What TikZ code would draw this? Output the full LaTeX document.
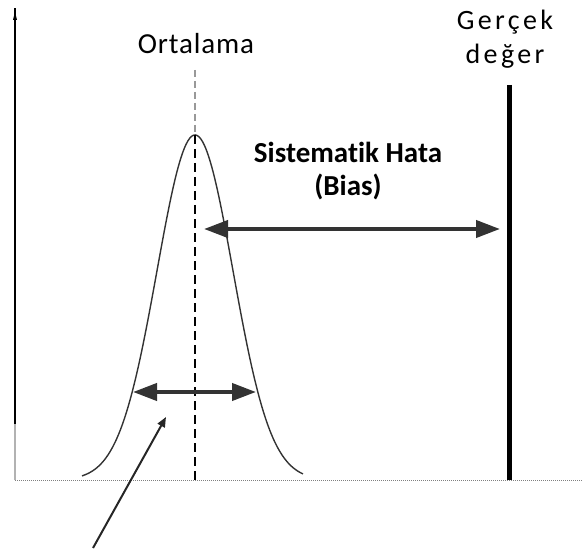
\documentclass[tikz,border=0pt]{standalone}
\usepackage{fontspec}
\setmainfont[Ligatures=NoCommon]{Carlito}
\usetikzlibrary{arrows.meta}
\tikzset{
  lbl/.style={font=\fontsize{28}{33}\selectfont, inner sep=0pt, align=center},
  axis/.style={line width=1pt, gray},
  bigarrow/.style={line width=4pt, black!80, {Triangle[width=17pt,length=24pt]}-{Triangle[width=17pt,length=24pt]}},
  pointer/.style={line width=2pt, black!85, -{Triangle[width=8pt,length=10pt]}},
}
\begin{document}
\begin{tikzpicture}[x=1pt,y=-1pt]
\useasboundingbox (0,0) rectangle (584,559);
% axes
\coordinate (o) at (15,480);
\coordinate (ytop) at (15,8);
\coordinate (xend) at (582,480);
\draw[line width=2pt, black] (15,424) -- (ytop);
\draw[line width=2pt, black!30] (o) -- (15,424);
\fill (15,12) -- (13,20) -- (17,20) -- cycle;
\draw[axis, densely dotted] (o) -- (xend);
% bell curve
\draw[line width=1.4pt, black!80, domain=-113:108, samples=120, smooth]
  plot ({195+\x}, {480-345*exp(-(\x*\x)/(2*38*38))});
% mean line
\coordinate (mtop) at (195,70);
\coordinate (mpeak) at (195,135);
\coordinate (mbot) at (195,480);
\draw[line width=1.6pt, black!40, dash pattern=on 7pt off 4pt] (mtop) -- (mpeak);
\draw[line width=2pt, black, dash pattern=on 9pt off 5pt] (mpeak) -- (mbot);
% labels
\node[lbl, font=\fontsize{29}{33}\selectfont\addfontfeatures{LetterSpace=3}] (ort) at (196,44) {Ortalama};
\node[lbl, font=\fontsize{28}{34}\selectfont\addfontfeatures{LetterSpace=12}] (gercek) at (505,39) {Gerçek\\değer};
\node[lbl, font=\fontsize{29}{33}\selectfont\bfseries] (sis) at (348,171) {Sistematik Hata\\(Bias)};
% true value line
\coordinate (ttop) at (509,85);
\coordinate (tbot) at (509,480);
\draw[line width=5pt, black] (ttop) -- (tbot);
% bias arrow
\coordinate (b1) at (204,229);
\coordinate (b2) at (500,229);
\draw[bigarrow] (b1) -- (b2);
% spread arrow
\coordinate (s1) at (133,392);
\coordinate (s2) at (256,392);
\draw[bigarrow] (s1) -- (s2);
% pointer
\coordinate (p1) at (93,548);
\coordinate (p2) at (166,417);
\draw[pointer] (p1) -- (p2);
\end{tikzpicture}
\end{document}
